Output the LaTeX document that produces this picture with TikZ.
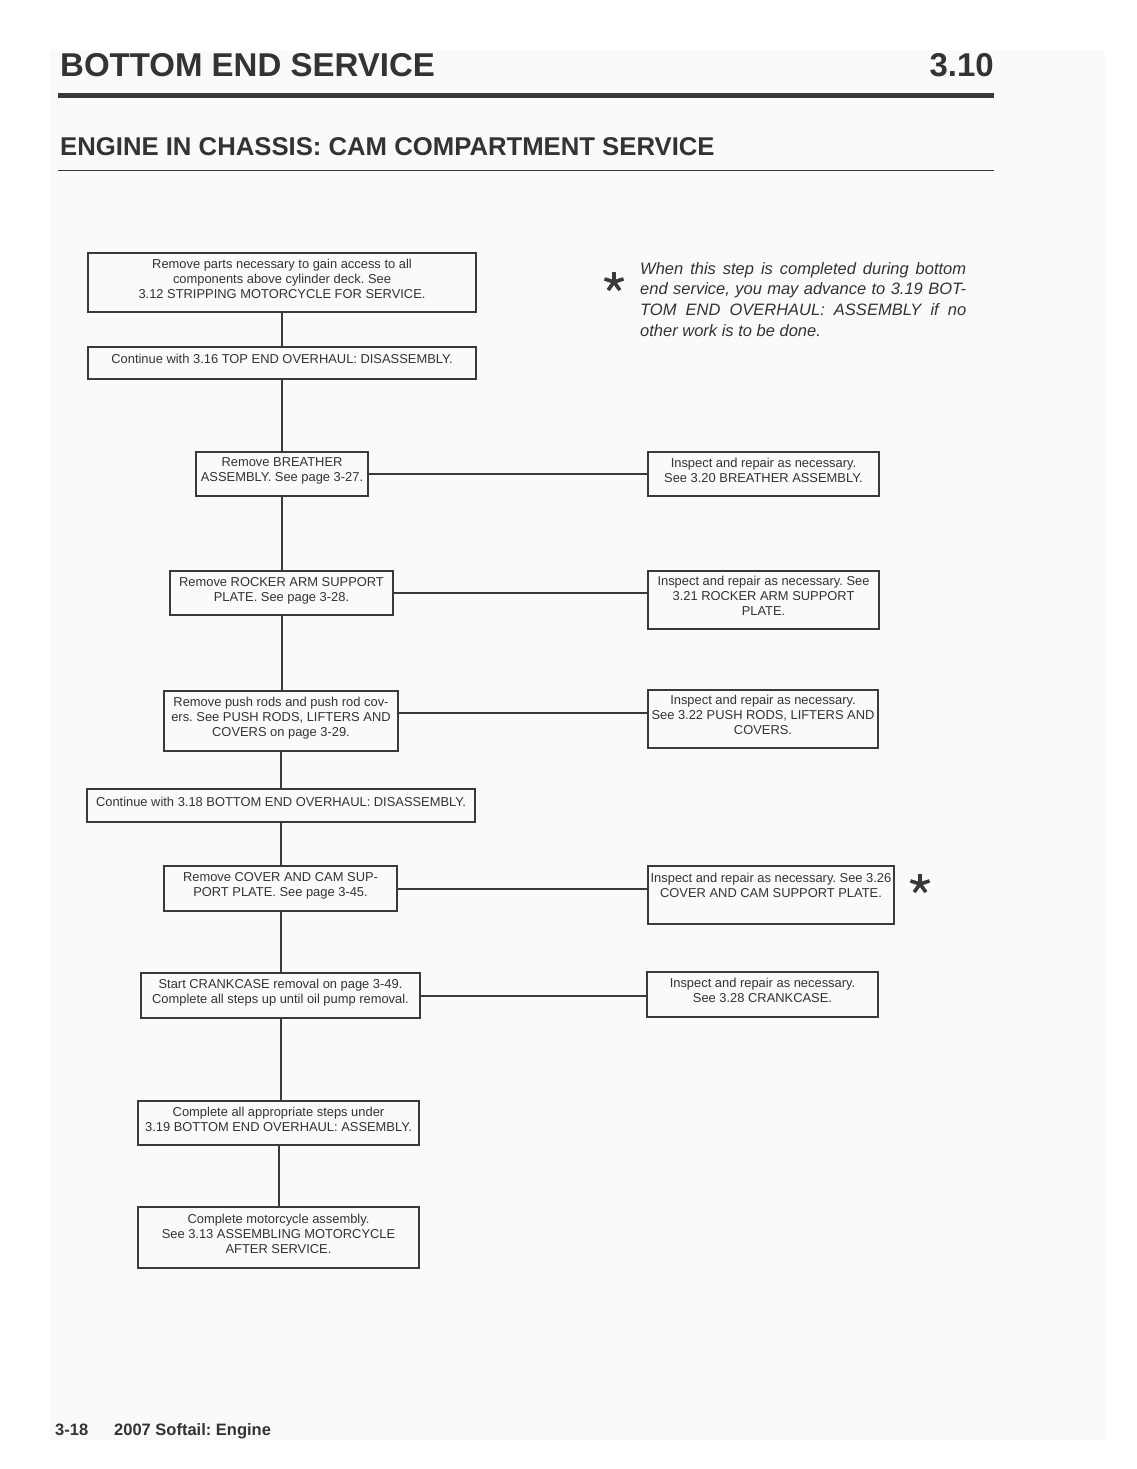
\documentclass[tikz,border=0pt]{standalone}
\usepackage{fontspec}
\setmainfont{Liberation Sans}
\usepackage{xcolor}
\usepackage{tikz}
\usetikzlibrary{positioning}
\definecolor{ink}{HTML}{333333}
\definecolor{rule}{HTML}{3A3A3A}
\definecolor{paper}{HTML}{FAFAFA}
\newcommand{\notestar}[1]{%
  \foreach \ang in {90,162,234,306,18}
    \draw[line width=3.6pt, rule] (#1) -- ++(\ang:10pt);}
\frenchspacing

\begin{document}
\begin{tikzpicture}[x=1pt, y=-1pt,
  stepbox/.style={draw=rule, line width=2pt, inner sep=0pt, align=center,
    text=ink, font=\fontsize{12.9}{15}\selectfont, text depth=8pt},
  link/.style={rule, line width=2pt},
  heading/.style={text=ink, inner sep=0pt, font=\bfseries}]
\useasboundingbox (0,0) rectangle (1136,1469);
\fill[paper] (50,50) rectangle (1105,1440);

% --- Page heading ---
\node[heading, anchor=base west, font=\fontsize{33}{36}\bfseries\selectfont]
  (title) at (60,77) {BOTTOM END SERVICE};
\node[heading, anchor=base east, font=\fontsize{33}{36}\bfseries\selectfont]
  (secno) at (994,77) {3.10};
\draw[rule, line width=5pt] (58,95.5) -- (994,95.5);
\node[heading, anchor=base west, font=\fontsize{25.7}{28}\bfseries\selectfont]
  (subtitle) at (60,155) {ENGINE IN CHASSIS: CAM COMPARTMENT SERVICE};
\draw[rule, line width=0.9pt] (58,170) -- (994,170);

% --- Main column ---
\node[stepbox, minimum width=388, minimum height=59] (strip) at (282,282.5)
  {Remove parts necessary to gain access to all\\components above cylinder deck. See\\3.12 STRIPPING MOTORCYCLE FOR SERVICE.};
\node[stepbox, minimum width=388, minimum height=32] (topdis) at (282,363)
  {Continue with 3.16 TOP END OVERHAUL: DISASSEMBLY.};
\node[stepbox, minimum width=172, minimum height=44] (breather) at (282,474)
  {Remove BREATHER\\ASSEMBLY. See page 3-27.};
\node[stepbox, minimum width=223, minimum height=44] (rocker) at (281.5,593)
  {Remove ROCKER ARM SUPPORT\\PLATE. See page 3-28.};
\node[stepbox, minimum width=234, minimum height=60] (pushrod) at (281,721)
  {Remove push rods and push rod cov-\\ers. See PUSH RODS, LIFTERS AND\\COVERS on page 3-29.};
\node[stepbox, minimum width=388, minimum height=33] (botdis) at (281,805.5)
  {Continue with 3.18 BOTTOM END OVERHAUL: DISASSEMBLY.};
\node[stepbox, minimum width=233, minimum height=45] (camplate) at (280.5,888.5)
  {Remove COVER AND CAM SUP-\\PORT PLATE. See page 3-45.};
\node[stepbox, minimum width=279, minimum height=45] (crank) at (280.5,995.5)
  {Start CRANKCASE removal on page 3-49.\\Complete all steps up until oil pump removal.};
\node[stepbox, minimum width=281, minimum height=44] (botasm) at (278.5,1123)
  {Complete all appropriate steps under\\3.19 BOTTOM END OVERHAUL: ASSEMBLY.};
\node[stepbox, minimum width=281, minimum height=61] (finish) at (278.5,1237.5)
  {Complete motorcycle assembly.\\See 3.13 ASSEMBLING MOTORCYCLE\\AFTER SERVICE.};

% --- Inspection column ---
\node[stepbox, minimum width=231, minimum height=44] (breatherchk) at (763.5,474)
  {Inspect and repair as necessary.\\See 3.20 BREATHER ASSEMBLY.};
\node[stepbox, minimum width=231, minimum height=58] (rockerchk) at (763.5,600)
  {Inspect and repair as necessary. See\\3.21 ROCKER ARM SUPPORT\\PLATE.};
\node[stepbox, minimum width=230, minimum height=58] (pushrodchk) at (763,719)
  {Inspect and repair as necessary.\\See 3.22 PUSH RODS, LIFTERS AND\\COVERS.};
\node[stepbox, minimum width=246, minimum height=58, text depth=19pt] (camplatechk) at (771,895)
  {Inspect and repair as necessary. See 3.26\\COVER AND CAM SUPPORT PLATE.};
\node[stepbox, minimum width=231, minimum height=45] (crankchk) at (762.5,994.5)
  {Inspect and repair as necessary.\\See 3.28 CRANKCASE.};

% --- Connectors ---
\foreach \a/\b in {strip/topdis, topdis/breather, breather/rocker, rocker/pushrod,
    pushrod/botdis, botdis/camplate, camplate/crank, crank/botasm, botasm/finish}
  \draw[link] (\a.south) -- (\a.south |- \b.north);
\foreach \a/\b in {breather/breatherchk, rocker/rockerchk, camplate/camplatechk, crank/crankchk}
  \draw[link] (\a.east) -- (\a.east -| \b.west);
\draw[link] ([yshift=8pt]pushrod.east) -- ([yshift=8pt]pushrod.east -| pushrodchk.west);

% --- Note ---
\coordinate (notestar) at (614,282);
\coordinate (chkstar) at (920,884);
\notestar{notestar}
\notestar{chkstar}
\node[anchor=north west, inner sep=0pt, align=left, text=ink,
  font=\fontsize{16.5}{20.7}\itshape\selectfont] (note) at (640,262)
  {\makebox[326pt][s]{When this step is completed during bottom}\\
   \makebox[326pt][s]{end service, you may advance to 3.19 BOT-}\\
   \makebox[326pt][s]{TOM END OVERHAUL: ASSEMBLY if no}\\
   other work is to be done.};

% --- Footer ---
\node[heading, anchor=base west, font=\fontsize{16.5}{18}\bfseries\selectfont]
  (pageno) at (55,1435) {3-18};
\node[heading, anchor=base west, font=\fontsize{16.5}{18}\bfseries\selectfont]
  (booktitle) at (114,1435) {2007 Softail: Engine};
\end{tikzpicture}
\end{document}
